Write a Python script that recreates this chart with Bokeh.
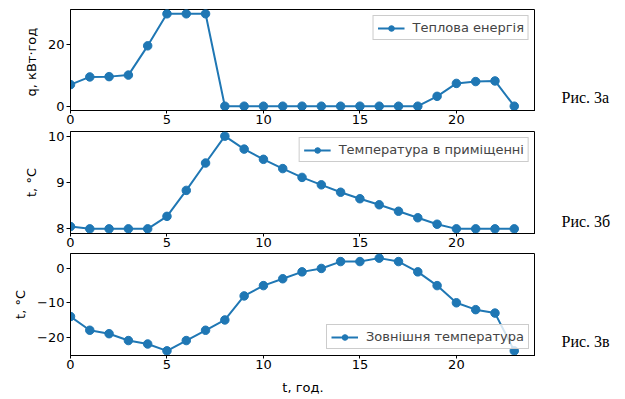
from bokeh.plotting import figure
from bokeh.layouts import column, row
from bokeh.models import Range1d, FixedTicker, Label, Legend, LegendItem
from bokeh.embed import file_html
from bokeh.resources import INLINE

hours = list(range(24))
heat = [7.0, 9.5, 9.6, 10.1, 19.6, 30, 30, 30, 0, 0, 0, 0, 0, 0, 0, 0, 0, 0, 0, 3.2, 7.4, 8.0, 8.2, 0]
t_in = [8.05, 8.0, 8.0, 8.0, 8.0, 8.27, 8.83, 9.42, 10.0, 9.72, 9.5, 9.3, 9.11, 8.95, 8.79, 8.65, 8.52, 8.38, 8.24, 8.1, 8.0, 8.0, 8.0, 8.0]
t_out = [-14, -18, -19, -21, -22, -24, -21, -18, -15, -8, -5, -3, -1, 0, 2, 2, 3, 2, -1, -5, -10, -12, -13, -24]

series = [
    dict(y=heat, name="Теплова енергія", ylabel="q,  кВт·год", yr=(-1.4, 31.4), ticks=[0, 20],
         loc="top_right", fig="Рис. 3а", fy=2.8, top=9, bottom=19, fh=101),
    dict(y=t_in, name="Температура в приміщенні", ylabel="t, °C", yr=(7.9, 10.1), ticks=[8, 9, 10],
         loc="top_right", fig="Рис. 3б", fy=8.16, top=2, bottom=18, fh=102),
    dict(y=t_out, name="Зовнішня температура", ylabel="t, °C", yr=(-25.35, 4.35), ticks=[-20, -10, 0],
         loc="bottom_right", fig="Рис. 3в", fy=-21.4, top=2, bottom=43, fh=102),
]

BLUE = "#1f77b4"
FONT = "DejaVu Sans"
rows = []
for i, s in enumerate(series):
    p = figure(output_backend="svg", toolbar_location=None,
               frame_width=465, frame_height=s["fh"],
               min_border_left=70, min_border_right=0,
               min_border_top=s["top"], min_border_bottom=s["bottom"],
               x_range=Range1d(0, 24.1), y_range=Range1d(*s["yr"]))
    p.xgrid.visible = False
    p.ygrid.visible = False
    p.outline_line_color = "black"
    p.outline_line_alpha = 1
    p.outline_line_width = 1
    for ax in (p.xaxis[0], p.yaxis[0]):
        ax.axis_line_color = "black"
        ax.major_tick_line_color = "black"
        ax.minor_tick_line_color = None
        ax.major_tick_in = 0
        ax.major_tick_out = 4
        ax.major_label_standoff = 2
        ax.major_label_text_font = FONT
        ax.major_label_text_font_size = "13px"
        ax.major_label_text_color = "black"
        ax.axis_label_text_font = FONT
        ax.axis_label_text_font_size = "13px"
        ax.axis_label_text_font_style = "normal"
        ax.axis_label_text_color = "black"
    p.xaxis[0].major_tick_out = 3
    p.xaxis[0].major_label_standoff = 1
    p.xaxis[0].ticker = FixedTicker(ticks=[0, 5, 10, 15, 20])
    p.yaxis[0].ticker = FixedTicker(ticks=s["ticks"])
    p.yaxis[0].major_label_overrides = {t: str(t).replace("-", "\u2212") for t in s["ticks"] if t < 0}
    p.yaxis[0].axis_label = s["ylabel"]
    p.yaxis[0].axis_label_standoff = 6
    if i == 2:
        p.xaxis[0].axis_label = "t, год."
        p.xaxis[0].axis_label_standoff = 8
    r1 = p.line(hours, s["y"], line_color=BLUE, line_width=2)
    r2 = p.scatter(hours, s["y"], size=8.5, fill_color=BLUE, line_color=BLUE)
    leg = Legend(items=[LegendItem(label=s["name"], renderers=[r1, r2])],
                 location=s["loc"], margin=6, padding=4, spacing=0,
                 glyph_width=27, glyph_height=14, label_height=14, label_standoff=8,
                 label_text_font=FONT, label_text_font_size="13px",
                 border_line_color="#cccccc", border_line_alpha=1,
                 background_fill_alpha=0.8)
    p.add_layout(leg)

    side = figure(output_backend="svg", toolbar_location=None,
                  frame_width=90, frame_height=s["fh"],
                  min_border_left=0, min_border_right=0,
                  min_border_top=s["top"], min_border_bottom=s["bottom"],
                  x_range=Range1d(0, 90), y_range=p.y_range,
                  x_axis_location=None, y_axis_location=None)
    side.xgrid.visible = False
    side.ygrid.visible = False
    side.outline_line_color = None
    side.add_layout(Label(x=26, y=s["fy"], text=s["fig"], text_font="Liberation Serif",
                          text_font_size="16px", text_baseline="middle", text_color="black"))
    rows.append(row(p, side, spacing=0))

layout = column(*rows, spacing=0)
open("out.html", "w").write(file_html(layout, INLINE))
